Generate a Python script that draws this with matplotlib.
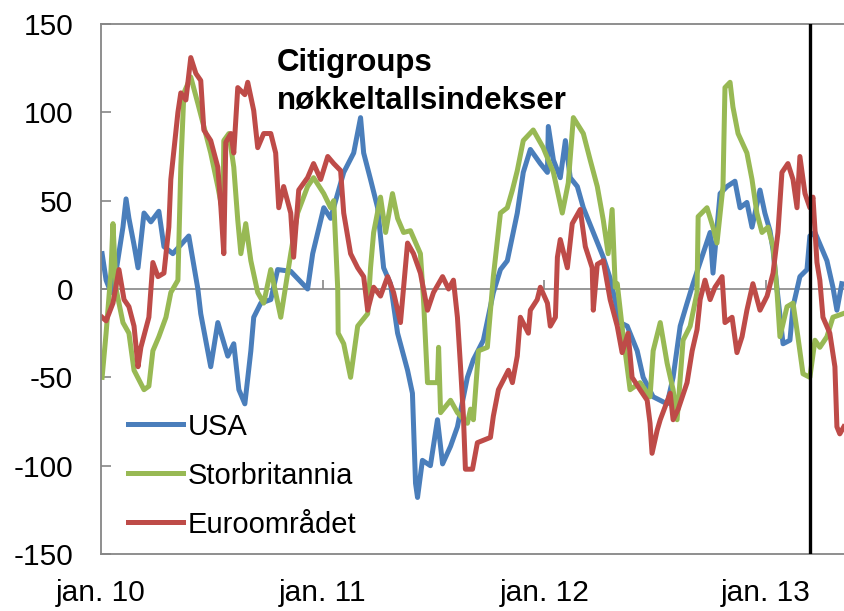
import matplotlib
matplotlib.use("Agg")
import matplotlib.pyplot as plt

plt.rcParams['font.family'] = ['Liberation Sans', 'DejaVu Sans']

# time as decimal year, values as index level
usa_t = [2010.005, 2010.023, 2010.045, 2010.068, 2010.099, 2010.113, 2010.126, 2010.149, 2010.167, 2010.194,
         2010.225, 2010.261, 2010.284, 2010.324, 2010.396, 2010.437, 2010.450, 2010.495, 2010.527, 2010.572,
         2010.599, 2010.622, 2010.649, 2010.676, 2010.689, 2010.721, 2010.766, 2010.797, 2010.856, 2010.932,
         2010.955, 2011.005, 2011.036, 2011.095, 2011.140, 2011.171, 2011.185, 2011.216, 2011.248, 2011.275,
         2011.306, 2011.338, 2011.383, 2011.405, 2011.419, 2011.428, 2011.450, 2011.486, 2011.518, 2011.541,
         2011.577, 2011.608, 2011.653, 2011.680, 2011.725, 2011.770, 2011.802, 2011.833, 2011.878, 2011.905,
         2011.937, 2011.982, 2012.014, 2012.018, 2012.041, 2012.072, 2012.095, 2012.117, 2012.149, 2012.176,
         2012.221, 2012.266, 2012.297, 2012.342, 2012.374, 2012.419, 2012.446, 2012.491, 2012.554, 2012.581,
         2012.613, 2012.644, 2012.671, 2012.716, 2012.748, 2012.761, 2012.793, 2012.824, 2012.860, 2012.883,
         2012.914, 2012.937, 2012.973, 2012.995, 2013.018, 2013.032, 2013.050, 2013.077, 2013.108, 2013.122,
         2013.153, 2013.185, 2013.198, 2013.221, 2013.275, 2013.302, 2013.320, 2013.342]
usa_v = [20, 5, -2, 10, 35, 51, 40, 25, 12, 43,
         38, 44, 24, 20, 30, 0, -14, -44, -19, -38,
         -31, -57, -65, -35, -16, -8, -6, 11, 10, 0,
         20, 46, 40, 66, 77, 97, 77, 62, 46, 12,
         3, -25, -46, -59, -110, -118, -97, -100, -74, -99,
         -89, -78, -50, -40, -29, -2, 11, 16, 43, 66,
         79, 71, 66, 92, 73, 63, 84, 63, 58, 46,
         32, 18, 6, -19, -21, -35, -50, -61, -65, -50,
         -21, -8, 3, 20, 32, 9, 54, 58, 61, 46,
         49, 35, 56, 43, 33, 22, 0, -31, -29, -10,
         7, 11, 30, 32, 16, 1, -12, 3]

uk_t = [2010.005, 2010.023, 2010.045, 2010.054, 2010.068, 2010.099, 2010.126, 2010.149, 2010.194, 2010.216,
        2010.234, 2010.261, 2010.293, 2010.315, 2010.347, 2010.360, 2010.374, 2010.405, 2010.437, 2010.464,
        2010.495, 2010.527, 2010.550, 2010.554, 2010.577, 2010.599, 2010.617, 2010.631, 2010.653, 2010.676,
        2010.707, 2010.734, 2010.766, 2010.811, 2010.842, 2010.856, 2010.887, 2010.932, 2010.959, 2011.005,
        2011.036, 2011.050, 2011.068, 2011.070, 2011.095, 2011.126, 2011.158, 2011.203, 2011.216, 2011.230,
        2011.261, 2011.284, 2011.315, 2011.338, 2011.365, 2011.396, 2011.441, 2011.455, 2011.473, 2011.518,
        2011.523, 2011.532, 2011.577, 2011.608, 2011.653, 2011.667, 2011.680, 2011.703, 2011.743, 2011.770,
        2011.802, 2011.833, 2011.856, 2011.878, 2011.905, 2011.950, 2011.995, 2012.041, 2012.081, 2012.108,
        2012.131, 2012.176, 2012.207, 2012.239, 2012.266, 2012.288, 2012.306, 2012.320, 2012.329, 2012.356,
        2012.387, 2012.432, 2012.477, 2012.491, 2012.523, 2012.554, 2012.581, 2012.599, 2012.626, 2012.658,
        2012.689, 2012.694, 2012.734, 2012.761, 2012.779, 2012.806, 2012.815, 2012.838, 2012.851, 2012.874,
        2012.914, 2012.937, 2012.959, 2012.982, 2013.009, 2013.032, 2013.050, 2013.063, 2013.095, 2013.122,
        2013.144, 2013.167, 2013.198, 2013.221, 2013.243, 2013.275, 2013.302, 2013.347]
uk_v = [-50, -25, 10, 37, 0, -19, -25, -46, -57, -55,
        -35, -27, -16, -2, 5, 69, 111, 120, 105, 92,
        77, 58, 43, 84, 88, 69, 39, 20, 37, 16,
        -2, -8, 11, -16, 9, 20, 43, 58, 63, 54,
        46, 50, 0, -25, -31, -50, -21, -14, 12, 32,
        52, 32, 54, 40, 32, 33, 20, -6, -53, -53,
        -33, -70, -63, -70, -76, -68, -74, -35, -33, 7,
        43, 46, 56, 67, 84, 90, 80, 66, 43, 60,
        97, 88, 73, 58, 39, 20, 45, 1, 3, -27,
        -57, -53, -61, -35, -19, -42, -57, -74, -29, -21,
        -2, 41, 46, 35, 26, 58, 114, 117, 103, 88,
        77, 62, 43, 32, 35, 24, -2, -27, -10, -8,
        -27, -48, -50, -29, -33, -27, -16, -14]

euro_t = [2010.005, 2010.023, 2010.054, 2010.081, 2010.104, 2010.126, 2010.149, 2010.167, 2010.180, 2010.216,
          2010.234, 2010.257, 2010.284, 2010.306, 2010.315, 2010.347, 2010.360, 2010.383, 2010.405, 2010.428,
          2010.450, 2010.464, 2010.495, 2010.527, 2010.541, 2010.554, 2010.563, 2010.586, 2010.599, 2010.617,
          2010.649, 2010.662, 2010.689, 2010.707, 2010.734, 2010.766, 2010.788, 2010.802, 2010.824, 2010.856,
          2010.869, 2010.892, 2010.932, 2010.959, 2010.991, 2011.023, 2011.050, 2011.081, 2011.095, 2011.126,
          2011.158, 2011.185, 2011.203, 2011.230, 2011.261, 2011.293, 2011.320, 2011.351, 2011.383, 2011.410,
          2011.441, 2011.455, 2011.473, 2011.500, 2011.541, 2011.568, 2011.590, 2011.608, 2011.622, 2011.635,
          2011.644, 2011.676, 2011.698, 2011.757, 2011.770, 2011.793, 2011.838, 2011.856, 2011.878, 2011.892,
          2011.928, 2011.937, 2011.968, 2011.982, 2012.014, 2012.027, 2012.050, 2012.059, 2012.072, 2012.104,
          2012.126, 2012.162, 2012.185, 2012.216, 2012.221, 2012.239, 2012.266, 2012.297, 2012.329, 2012.351,
          2012.378, 2012.396, 2012.432, 2012.464, 2012.477, 2012.486, 2012.509, 2012.523, 2012.568, 2012.581,
          2012.604, 2012.644, 2012.667, 2012.689, 2012.703, 2012.725, 2012.748, 2012.770, 2012.802, 2012.815,
          2012.847, 2012.869, 2012.892, 2012.914, 2012.941, 2012.973, 2013.005, 2013.032, 2013.054, 2013.072,
          2013.099, 2013.122, 2013.140, 2013.153, 2013.176, 2013.198, 2013.212, 2013.230, 2013.243, 2013.257,
          2013.288, 2013.311, 2013.320, 2013.333, 2013.351]
euro_v = [-16, -18, -8, 11, -6, -10, -21, -44, -33, -16,
          15, 7, 9, 35, 62, 100, 111, 107, 131, 122,
          118, 90, 84, 69, 46, 20, 83, 88, 77, 114,
          110, 117, 101, 80, 88, 88, 77, 46, 58, 43,
          18, 56, 63, 71, 62, 75, 71, 67, 43, 20,
          12, 7, -12, 1, -4, 7, -2, -19, 26, 20,
          9, 0, -12, -2, 7, 0, 5, -16, -44, -72,
          -102, -102, -87, -84, -72, -57, -46, -53, -38, -16,
          -25, -12, -6, 1, -8, -21, -16, 18, 28, 12,
          37, 45, 24, 12, -12, 14, 16, -6, -21, -36,
          -25, -50, -57, -63, -76, -93, -80, -74, -59, -74,
          -68, -53, -35, -23, -6, 5, -6, 1, 7, -19,
          -16, -36, -27, -12, 3, -12, -4, 9, 32, 66,
          71, 62, 46, 75, 54, 46, 52, 15, 5, -16,
          -25, -44, -78, -82, -78]

series_names = ['USA', 'Storbritannia', 'Euroområdet']
series_colors = ['#4A7EBB', '#98B954', '#BE4B48']

year_ticks = [2010, 2011, 2012, 2013]
year_labels = ['jan. 10', 'jan. 11', 'jan. 12', 'jan. 13']
y_ticks = [-150, -100, -50, 0, 50, 100, 150]
y_labels = ['-150', '-100', '-50', '0', '50', '100', '150']
marker_date = 2013.198

fig = plt.figure(figsize=(8.44, 6.11), dpi=100)
ax = fig.add_axes([101 / 844, 57 / 611, 743 / 844, 530 / 611])

grey = '#868686'
ax.axhline(0, color=grey, lw=1.2, zorder=1)
ax.vlines(year_ticks, 0, 5, color=grey, lw=1.2, zorder=1)

for t, v, name, col in zip([usa_t, uk_t, euro_t], [usa_v, uk_v, euro_v], series_names, series_colors):
    ax.plot(t, v, color=col, lw=3.6, label=name, solid_joinstyle='round', zorder=2)

ax.axvline(marker_date, color='black', lw=2.4, zorder=3)

ax.set_xlim(2010.0, 2013.352)
ax.set_ylim(-150, 150)
ax.set_yticks(y_ticks)
ax.set_yticklabels(y_labels)
ax.set_xticks(year_ticks)
ax.set_xticklabels(year_labels)
ax.tick_params(axis='y', direction='in', length=7, width=1.2, color=grey, labelsize=21.5, pad=20)
ax.tick_params(axis='x', length=0, labelsize=21.5, pad=18)

for side in ['left', 'top', 'bottom']:
    ax.spines[side].set_color(grey)
    ax.spines[side].set_linewidth(1.3)
ax.spines['right'].set_visible(False)

ax.text(0.237, 0.954, 'Citigroups\nnøkkeltallsindekser', transform=ax.transAxes,
        ha='left', va='top', fontsize=22.5, fontweight='bold', linespacing=1.3)

ax.legend(loc='lower left', bbox_to_anchor=(0.036, 0.029), frameon=False, fontsize=21,
          handlelength=1.9, handletextpad=0.15, labelspacing=0.72, borderpad=0, borderaxespad=0)

fig.savefig('out.png', dpi=100)
